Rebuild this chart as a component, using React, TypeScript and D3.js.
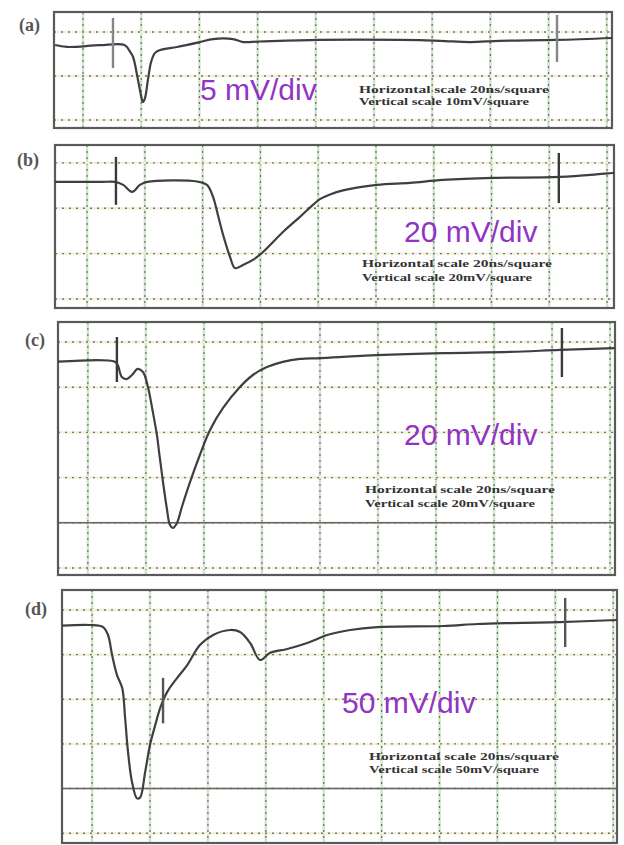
import React from "react";
import * as d3 from "d3";

const W = 624;
const H = 845;

// ---- data: time (ns) / voltage (mV) samples ----
const timeA = [-9.6, -5.5, 5.8, 14.4, 16.2, 17.2, 18.9, 19.9, 20.6, 21.3, 22.3, 23.4, 24.7, 26.5, 32.3, 40.2, 44.7, 51.5, 55, 60.8, 81.4, 109, 122.7, 133, 143.3, 163, 181.8];
const voltA = [-1.48, -1.7, -1.5, -1.5, -2.27, -2.84, -5.45, -7.16, -7.95, -7.5, -5.45, -3.4, -2.4, -2.05, -1.7, -1.14, -0.8, -0.8, -1.14, -1.08, -0.9, -0.9, -1.0, -1.14, -1.0, -0.9, -0.68];

const timeB = [-11.1, 4.5, 9.7, 12.5, 15.6, 18.3, 20.8, 38.1, 41.5, 43.6, 45.3, 47.1, 49.5, 51.2, 54, 57.4, 60.9, 67.8, 73.7, 78.2, 80.6, 84.1, 88.6, 100.3, 111.8, 123.2, 140.5, 163.7, 182.4];
const voltB = [-8.4, -8.4, -8.4, -9.7, -12.8, -9.7, -8.4, -8.2, -9.7, -15, -23, -31.8, -41.5, -46.4, -45, -42.8, -39.3, -30.5, -23.8, -18.5, -16, -13.9, -12.1, -9.7, -8.8, -7.5, -6.6, -6.2, -4.4];

const timeC = [-10.3, 9.3, 10.3, 11.7, 13.4, 15.2, 17.2, 19, 20.7, 22.4, 23.8, 24.8, 25.9, 27.2, 28.3, 29.3, 30.7, 32.4, 35.2, 38.6, 42.1, 46.6, 52.4, 56.9, 61.7, 67.2, 73.1, 80, 99.7, 122.4, 145.5, 162.8, 181.7];
const voltC = [-8.7, -8.7, -10.2, -15.5, -16.4, -14.6, -11.9, -13.3, -19.9, -31, -41.2, -51.3, -62, -73.5, -81, -82.3, -80.1, -73, -62, -50, -38.9, -29.2, -19.9, -14.6, -11.1, -8.8, -7.5, -7.1, -5.8, -4.9, -4.4, -3.5, -2.7];

const timeD = [-10.4, -0.7, 3.8, 5.5, 6.9, 8.6, 10.4, 11.4, 12.4, 13.8, 15.5, 16.6, 18.3, 20, 21.8, 23.5, 25.9, 29.4, 32.8, 37.3, 41.8, 47.7, 51.1, 54.6, 58, 61.5, 67.4, 74.3, 77, 81.2, 89.1, 98.4, 121.2, 133, 144.4, 161.7, 181.3];
const voltD = [-17.6, -16.8, -19.1, -28, -50.4, -72.9, -87.4, -121, -159, -193, -211, -210, -182, -151, -129, -110, -92, -76, -62, -39, -28, -22.4, -24.7, -37, -56, -48, -43.7, -37, -33.6, -28, -22.4, -19.1, -17.9, -15.7, -14.6, -13.5, -11.2];

// trigger / cursor marks: time, top voltage, bottom voltage
const markTimeA = [10.3, 162.9];
const markTopA = [1.6, 1.93];
const markBotA = [-4.1, -3.4];
const markTimeB = [10.0, 163.3];
const markTopB = [2.65, 4.4];
const markBotB = [-18.5, -17.7];
const markTimeC = [10.0, 163.4];
const markTopC = [2.2, 6.2];
const markBotC = [-17.7, -15.5];
const markTimeD = [24.5, 163.4];
const markTopD = [-76, 13.5];
const markBotD = [-127, -41.5];

// graticule (20 ns / square horizontally)
const timeGrid = [0, 20, 40, 60, 80, 100, 120, 140, 160, 180];
const voltGridA = [0, -5, -10];
const voltGridB = [0, -20, -40, -60];
const voltGridC = [0, -20, -40, -60, -80, -100];
const voltGridD = [0, -50, -100, -150, -200, -250];

const panelLabels = ["(a)", "(b)", "(c)", "(d)"];
const scaleLabels = ["5 mV/div", "20 mV/div", "20 mV/div", "50 mV/div"];
const horizText = ["Horizontal scale 20ns/square", "Horizontal scale 20ns/square", "Horizontal scale 20ns/square", "Horizontal scale 20ns/square"];
const vertText = ["Vertical scale 10mV/square", "Vertical scale 20mV/square", "Vertical scale 20mV/square", "Vertical scale 50mV/square"];

type Panel = {
  box: [number, number, number, number]; // left, top, right, bottom
  tDom: [number, number];
  vDom: [number, number]; // top, bottom
  time: number[];
  volt: number[];
  vGrid: number[];
  solid: number | null;
  mT: number[];
  mTop: number[];
  mBot: number[];
  labelPos: [number, number];
  scalePos: [number, number];
  notePos: [number, number, number];
  markColor: string;
};

const panels: Panel[] = [
  {
    box: [54, 12, 612, 128], tDom: [-9.97, 181.8], vDom: [2.27, -10.9],
    time: timeA, volt: voltA, vGrid: voltGridA, solid: null,
    mT: markTimeA, mTop: markTopA, mBot: markBotA,
    labelPos: [19, 31], scalePos: [200, 100], notePos: [359, 93, 105], markColor: "#858585",
  },
  {
    box: [55, 145, 614, 308], tDom: [-11.1, 182.4], vDom: [7.9, -64],
    time: timeB, volt: voltB, vGrid: voltGridB, solid: null,
    mT: markTimeB, mTop: markTopB, mBot: markBotB,
    labelPos: [17, 166], scalePos: [404, 242], notePos: [362, 267, 281], markColor: "#3a3a3a",
  },
  {
    box: [58, 322, 615, 575], tDom: [-10.3, 181.7], vDom: [8.85, -103.1],
    time: timeC, volt: voltC, vGrid: voltGridC, solid: -80,
    mT: markTimeC, mTop: markTopC, mBot: markBotC,
    labelPos: [25, 346], scalePos: [404, 445], notePos: [365, 493, 507], markColor: "#3a3a3a",
  },
  {
    box: [62, 590, 617, 843], tDom: [-10.4, 181.3], vDom: [22.4, -261],
    time: timeD, volt: voltD, vGrid: voltGridD, solid: -200,
    mT: markTimeD, mTop: markTopD, mBot: markBotD,
    labelPos: [25, 615], scalePos: [342, 713], notePos: [369, 760, 773], markColor: "#555555",
  },
];

function Scope({ p, i }: { p: Panel; i: number }) {
  const [l, t, r, b] = p.box;
  const x = d3.scaleLinear().domain(p.tDom).range([l, r]);
  const y = d3.scaleLinear().domain(p.vDom).range([t, b]);
  const line = d3
    .line<number>()
    .x((_, k) => x(p.time[k]))
    .y((v) => y(v))
    .curve(d3.curveCatmullRom.alpha(0.5));
  return (
    <g>
      <rect x={l} y={t} width={r - l} height={b - t} fill="#ffffff" />
      {/* graticule: pale green band with dark dots */}
      {timeGrid.map((g) => (
        <g key={"vt" + g}>
          <line x1={x(g)} x2={x(g)} y1={t} y2={b} stroke="#cfe6cc" strokeWidth={2.5} />
          <line x1={x(g)} x2={x(g)} y1={t} y2={b} stroke="#6f6f6f" strokeWidth={1.2} strokeDasharray="2,4" />
        </g>
      ))}
      {p.vGrid.map((g) => (
        <g key={"hv" + g}>
          <line x1={l} x2={r} y1={y(g)} y2={y(g)} stroke="#f3efd8" strokeWidth={2.5} />
          <line x1={l} x2={r} y1={y(g)} y2={y(g)} stroke="#6f7a6f" strokeWidth={1.4} strokeDasharray="2,5" />
        </g>
      ))}
      {p.solid !== null && (
        <line x1={l} x2={r} y1={y(p.solid)} y2={y(p.solid)} stroke="#666" strokeWidth={1.6} />
      )}
      <rect x={l} y={t} width={r - l} height={b - t} fill="none" stroke="#5a5a5a" strokeWidth={2.2} />
      {/* trace */}
      <path d={line(p.volt) || ""} fill="none" stroke="#3f3f3f" strokeWidth={2.2} strokeLinejoin="round" />
      {/* markers */}
      {p.mT.map((m, k) => (
        <line key={"m" + k} x1={x(m)} x2={x(m)} y1={y(p.mTop[k])} y2={y(p.mBot[k])} stroke={p.markColor} strokeWidth={2.4} />
      ))}
      {/* labels */}
      <text x={p.labelPos[0]} y={p.labelPos[1]} fontFamily="'Liberation Serif', serif" fontWeight="bold" fontSize={18} fill="#555">
        {panelLabels[i]}
      </text>
      <text x={p.scalePos[0]} y={p.scalePos[1]} fontFamily="'Liberation Sans', Arial, sans-serif" fontSize={30} fill="#9233c4">
        {scaleLabels[i]}
      </text>
      <text x={p.notePos[0]} y={p.notePos[1]} fontFamily="'Liberation Serif', serif" fontWeight="bold" fontSize={11} fill="#333" textLength={190} lengthAdjust="spacingAndGlyphs">
        {horizText[i]}
      </text>
      <text x={p.notePos[0]} y={p.notePos[2]} fontFamily="'Liberation Serif', serif" fontWeight="bold" fontSize={11} fill="#333" textLength={170} lengthAdjust="spacingAndGlyphs">
        {vertText[i]}
      </text>
    </g>
  );
}

export default function App() {
  return (
    <svg width={W} height={H} style={{ position: "absolute", left: 0, top: 0, background: "#fff" }}>
      <rect width={W} height={H} fill="#fff" />
      {panels.map((p, i) => (
        <Scope key={i} p={p} i={i} />
      ))}
    </svg>
  );
}
